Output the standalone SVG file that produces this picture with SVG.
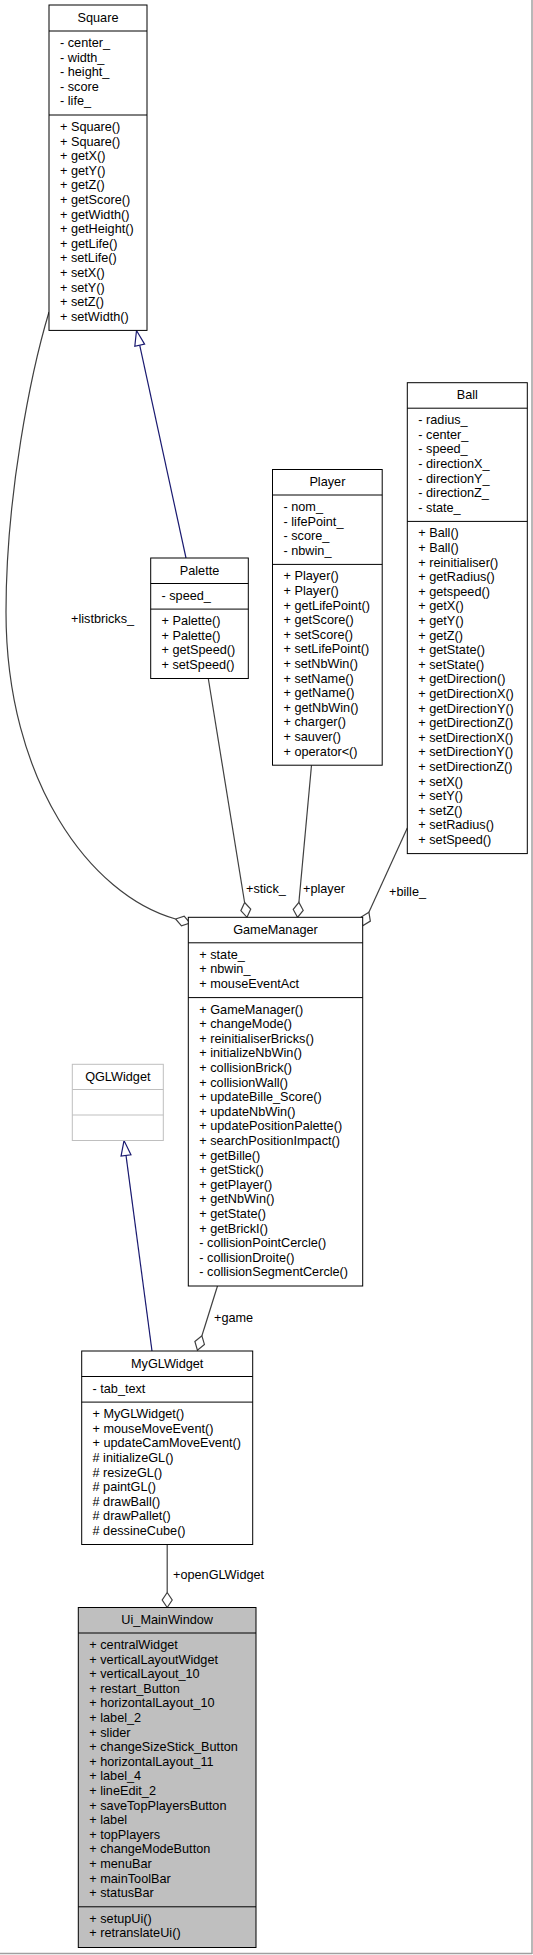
<svg xmlns="http://www.w3.org/2000/svg" width="533" height="1955" viewBox="0 0 533 1955">
<style>
  text { font-family: "Liberation Sans", Arial, sans-serif; font-size: 12.7px; fill: #000; }
  .t { text-anchor: middle; }
  .box { fill: #fff; stroke: #000; stroke-width: 1; }
  .hl { fill: #bfbfbf; stroke: #000; stroke-width: 1; }
  .ext { fill: #fff; stroke: #bfbfbf; stroke-width: 1; }
  .sep { stroke: #000; stroke-width: 1; }
  .sepx { stroke: #bfbfbf; stroke-width: 1; }
  .inh { stroke: #191970; stroke-width: 1.2; fill: none; }
  .asc { stroke: #404040; stroke-width: 1.2; fill: none; }
  .frame { stroke: #a0a0a0; stroke-width: 1.5; }
</style>
<defs>
  <marker id="tri" markerUnits="userSpaceOnUse" viewBox="0 0 16 12" markerWidth="16" markerHeight="12" refX="0" refY="6" orient="auto" style="overflow:visible">
    <path d="M0,1 L15,6 L0,11 Z" fill="#fff" stroke="#191970" stroke-width="1.2"/>
  </marker>
  <marker id="dia" markerUnits="userSpaceOnUse" viewBox="0 0 16 12" markerWidth="16" markerHeight="12" refX="0" refY="6" orient="auto" style="overflow:visible">
    <path d="M0,6 L7.5,1 L15,6 L7.5,11 Z" fill="#fff" stroke="#404040" stroke-width="1.2"/>
  </marker>
</defs>
<rect x="0" y="0" width="533" height="1955" fill="#fff"/>
<line class="frame" x1="532" y1="0" x2="532" y2="1954"/>
<line class="frame" x1="0" y1="1953.5" x2="532" y2="1953.5"/>

<g id="connectors">
  <path class="inh" d="M186,558 L139.7,345.2" marker-end="url(#tri)"/>
  <path class="inh" d="M152,1351 L126,1155.4" marker-end="url(#tri)"/>
  <path class="asc" d="M49,312 C31,372 6,495 6,612 C6,780 90,895 175.6,919" marker-end="url(#dia)"/>
  <path class="asc" d="M208.3,678.5 L244.6,902.5" marker-end="url(#dia)"/>
  <path class="asc" d="M311.5,765.2 L298.9,902.4" marker-end="url(#dia)"/>
  <path class="asc" d="M407.3,828 L368.9,912.2" marker-end="url(#dia)"/>
  <path class="asc" d="M217.5,1286 L201.9,1335.8" marker-end="url(#dia)"/>
  <path class="asc" d="M167.2,1544.5 L167.2,1592.5" marker-end="url(#dia)"/>
  <text x="71" y="623">+listbricks_</text>
  <text x="246" y="893">+stick_</text>
  <text x="303" y="893">+player</text>
  <text x="389" y="896">+bille_</text>
  <text x="214" y="1322">+game</text>
  <text x="173" y="1579">+openGLWidget</text>
</g>

<g id="Square">
  <rect class="box" x="49" y="5" width="98" height="325.4"/>
  <line class="sep" x1="49" y1="31" x2="147" y2="31"/>
  <line class="sep" x1="49" y1="115" x2="147" y2="115"/>
  <text class="t" x="98" y="21.5">Square</text>
  <text x="60" y="47"><tspan x="60">- center_</tspan><tspan x="60" dy="14.6">- width_</tspan><tspan x="60" dy="14.6">- height_</tspan><tspan x="60" dy="14.6">- score</tspan><tspan x="60" dy="14.6">- life_</tspan></text>
  <text x="60" y="131"><tspan x="60">+ Square()</tspan><tspan x="60" dy="14.6">+ Square()</tspan><tspan x="60" dy="14.6">+ getX()</tspan><tspan x="60" dy="14.6">+ getY()</tspan><tspan x="60" dy="14.6">+ getZ()</tspan><tspan x="60" dy="14.6">+ getScore()</tspan><tspan x="60" dy="14.6">+ getWidth()</tspan><tspan x="60" dy="14.6">+ getHeight()</tspan><tspan x="60" dy="14.6">+ getLife()</tspan><tspan x="60" dy="14.6">+ setLife()</tspan><tspan x="60" dy="14.6">+ setX()</tspan><tspan x="60" dy="14.6">+ setY()</tspan><tspan x="60" dy="14.6">+ setZ()</tspan><tspan x="60" dy="14.6">+ setWidth()</tspan></text>
</g>

<g id="Palette">
  <rect class="box" x="150.7" y="558" width="97.6" height="120.5"/>
  <line class="sep" x1="150.7" y1="583.5" x2="248.3" y2="583.5"/>
  <line class="sep" x1="150.7" y1="609.1" x2="248.3" y2="609.1"/>
  <text class="t" x="199.5" y="574.5">Palette</text>
  <text x="161.5" y="599.5">- speed_</text>
  <text x="161.5" y="625.1"><tspan x="161.5">+ Palette()</tspan><tspan x="161.5" dy="14.6">+ Palette()</tspan><tspan x="161.5" dy="14.6">+ getSpeed()</tspan><tspan x="161.5" dy="14.6">+ setSpeed()</tspan></text>
</g>

<g id="Player">
  <rect class="box" x="272.5" y="469.5" width="109.7" height="295.7"/>
  <line class="sep" x1="272.5" y1="495" x2="382.2" y2="495"/>
  <line class="sep" x1="272.5" y1="564.4" x2="382.2" y2="564.4"/>
  <text class="t" x="327.4" y="486">Player</text>
  <text x="283.5" y="511"><tspan x="283.5">- nom_</tspan><tspan x="283.5" dy="14.6">- lifePoint_</tspan><tspan x="283.5" dy="14.6">- score_</tspan><tspan x="283.5" dy="14.6">- nbwin_</tspan></text>
  <text x="283.5" y="580.4"><tspan x="283.5">+ Player()</tspan><tspan x="283.5" dy="14.6">+ Player()</tspan><tspan x="283.5" dy="14.6">+ getLifePoint()</tspan><tspan x="283.5" dy="14.6">+ getScore()</tspan><tspan x="283.5" dy="14.6">+ setScore()</tspan><tspan x="283.5" dy="14.6">+ setLifePoint()</tspan><tspan x="283.5" dy="14.6">+ setNbWin()</tspan><tspan x="283.5" dy="14.6">+ setName()</tspan><tspan x="283.5" dy="14.6">+ getName()</tspan><tspan x="283.5" dy="14.6">+ getNbWin()</tspan><tspan x="283.5" dy="14.6">+ charger()</tspan><tspan x="283.5" dy="14.6">+ sauver()</tspan><tspan x="283.5" dy="14.6">+ operator&lt;()</tspan></text>
</g>

<g id="Ball">
  <rect class="box" x="407.3" y="382.7" width="120" height="470.9"/>
  <line class="sep" x1="407.3" y1="408.2" x2="527.3" y2="408.2"/>
  <line class="sep" x1="407.3" y1="521.4" x2="527.3" y2="521.4"/>
  <text class="t" x="467.3" y="399.2">Ball</text>
  <text x="418.3" y="424.2"><tspan x="418.3">- radius_</tspan><tspan x="418.3" dy="14.6">- center_</tspan><tspan x="418.3" dy="14.6">- speed_</tspan><tspan x="418.3" dy="14.6">- directionX_</tspan><tspan x="418.3" dy="14.6">- directionY_</tspan><tspan x="418.3" dy="14.6">- directionZ_</tspan><tspan x="418.3" dy="14.6">- state_</tspan></text>
  <text x="418.3" y="537.4"><tspan x="418.3">+ Ball()</tspan><tspan x="418.3" dy="14.6">+ Ball()</tspan><tspan x="418.3" dy="14.6">+ reinitialiser()</tspan><tspan x="418.3" dy="14.6">+ getRadius()</tspan><tspan x="418.3" dy="14.6">+ getspeed()</tspan><tspan x="418.3" dy="14.6">+ getX()</tspan><tspan x="418.3" dy="14.6">+ getY()</tspan><tspan x="418.3" dy="14.6">+ getZ()</tspan><tspan x="418.3" dy="14.6">+ getState()</tspan><tspan x="418.3" dy="14.6">+ setState()</tspan><tspan x="418.3" dy="14.6">+ getDirection()</tspan><tspan x="418.3" dy="14.6">+ getDirectionX()</tspan><tspan x="418.3" dy="14.6">+ getDirectionY()</tspan><tspan x="418.3" dy="14.6">+ getDirectionZ()</tspan><tspan x="418.3" dy="14.6">+ setDirectionX()</tspan><tspan x="418.3" dy="14.6">+ setDirectionY()</tspan><tspan x="418.3" dy="14.6">+ setDirectionZ()</tspan><tspan x="418.3" dy="14.6">+ setX()</tspan><tspan x="418.3" dy="14.6">+ setY()</tspan><tspan x="418.3" dy="14.6">+ setZ()</tspan><tspan x="418.3" dy="14.6">+ setRadius()</tspan><tspan x="418.3" dy="14.6">+ setSpeed()</tspan></text>
</g>

<g id="GameManager">
  <rect class="box" x="188.3" y="917.3" width="174.4" height="368.7"/>
  <line class="sep" x1="188.3" y1="942.8" x2="362.7" y2="942.8"/>
  <line class="sep" x1="188.3" y1="997.6" x2="362.7" y2="997.6"/>
  <text class="t" x="275.5" y="933.8">GameManager</text>
  <text x="199.3" y="958.8"><tspan x="199.3">+ state_</tspan><tspan x="199.3" dy="14.6">+ nbwin_</tspan><tspan x="199.3" dy="14.6">+ mouseEventAct</tspan></text>
  <text x="199.3" y="1013.6"><tspan x="199.3">+ GameManager()</tspan><tspan x="199.3" dy="14.6">+ changeMode()</tspan><tspan x="199.3" dy="14.6">+ reinitialiserBricks()</tspan><tspan x="199.3" dy="14.6">+ initializeNbWin()</tspan><tspan x="199.3" dy="14.6">+ collisionBrick()</tspan><tspan x="199.3" dy="14.6">+ collisionWall()</tspan><tspan x="199.3" dy="14.6">+ updateBille_Score()</tspan><tspan x="199.3" dy="14.6">+ updateNbWin()</tspan><tspan x="199.3" dy="14.6">+ updatePositionPalette()</tspan><tspan x="199.3" dy="14.6">+ searchPositionImpact()</tspan><tspan x="199.3" dy="14.6">+ getBille()</tspan><tspan x="199.3" dy="14.6">+ getStick()</tspan><tspan x="199.3" dy="14.6">+ getPlayer()</tspan><tspan x="199.3" dy="14.6">+ getNbWin()</tspan><tspan x="199.3" dy="14.6">+ getState()</tspan><tspan x="199.3" dy="14.6">+ getBrickI()</tspan><tspan x="199.3" dy="14.6">- collisionPointCercle()</tspan><tspan x="199.3" dy="14.6">- collisionDroite()</tspan><tspan x="199.3" dy="14.6">- collisionSegmentCercle()</tspan></text>
</g>

<g id="QGLWidget">
  <rect class="ext" x="72.3" y="1064.3" width="91" height="76.2"/>
  <line class="sepx" x1="72.3" y1="1089.5" x2="163.3" y2="1089.5"/>
  <line class="sepx" x1="72.3" y1="1115" x2="163.3" y2="1115"/>
  <text class="t" x="117.8" y="1080.8">QGLWidget</text>
</g>

<g id="MyGLWidget">
  <rect class="box" x="81.7" y="1351" width="171" height="193.5"/>
  <line class="sep" x1="81.7" y1="1376.5" x2="252.7" y2="1376.5"/>
  <line class="sep" x1="81.7" y1="1402.1" x2="252.7" y2="1402.1"/>
  <text class="t" x="167.2" y="1367.5">MyGLWidget</text>
  <text x="92.5" y="1392.5">- tab_text</text>
  <text x="92.5" y="1418.1"><tspan x="92.5">+ MyGLWidget()</tspan><tspan x="92.5" dy="14.6">+ mouseMoveEvent()</tspan><tspan x="92.5" dy="14.6">+ updateCamMoveEvent()</tspan><tspan x="92.5" dy="14.6"># initializeGL()</tspan><tspan x="92.5" dy="14.6"># resizeGL()</tspan><tspan x="92.5" dy="14.6"># paintGL()</tspan><tspan x="92.5" dy="14.6"># drawBall()</tspan><tspan x="92.5" dy="14.6"># drawPallet()</tspan><tspan x="92.5" dy="14.6"># dessineCube()</tspan></text>
</g>

<g id="Ui_MainWindow">
  <rect class="hl" x="78.3" y="1607.5" width="177.7" height="340"/>
  <line class="sep" x1="78.3" y1="1633" x2="256" y2="1633"/>
  <line class="sep" x1="78.3" y1="1906.8" x2="256" y2="1906.8"/>
  <text class="t" x="167.2" y="1624">Ui_MainWindow</text>
  <text x="89.3" y="1649"><tspan x="89.3">+ centralWidget</tspan><tspan x="89.3" dy="14.6">+ verticalLayoutWidget</tspan><tspan x="89.3" dy="14.6">+ verticalLayout_10</tspan><tspan x="89.3" dy="14.6">+ restart_Button</tspan><tspan x="89.3" dy="14.6">+ horizontalLayout_10</tspan><tspan x="89.3" dy="14.6">+ label_2</tspan><tspan x="89.3" dy="14.6">+ slider</tspan><tspan x="89.3" dy="14.6">+ changeSizeStick_Button</tspan><tspan x="89.3" dy="14.6">+ horizontalLayout_11</tspan><tspan x="89.3" dy="14.6">+ label_4</tspan><tspan x="89.3" dy="14.6">+ lineEdit_2</tspan><tspan x="89.3" dy="14.6">+ saveTopPlayersButton</tspan><tspan x="89.3" dy="14.6">+ label</tspan><tspan x="89.3" dy="14.6">+ topPlayers</tspan><tspan x="89.3" dy="14.6">+ changeModeButton</tspan><tspan x="89.3" dy="14.6">+ menuBar</tspan><tspan x="89.3" dy="14.6">+ mainToolBar</tspan><tspan x="89.3" dy="14.6">+ statusBar</tspan></text>
  <text x="89.3" y="1922.8"><tspan x="89.3">+ setupUi()</tspan><tspan x="89.3" dy="14.6">+ retranslateUi()</tspan></text>
</g>
</svg>
